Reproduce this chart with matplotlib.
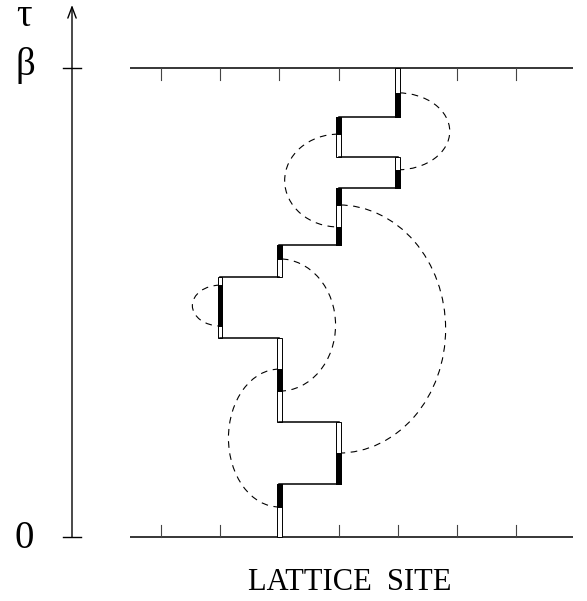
import matplotlib
matplotlib.use("Agg")
import matplotlib.pyplot as plt
from matplotlib.patches import Rectangle, Arc

# lattice sites and imaginary time (in units of beta)
sites = [0, 1, 2, 3, 4, 5, 6]

# world line: site occupied between successive kink times
wl_sites = [2, 3, 2, 1, 2, 3, 4, 3, 4]
kink_tau = [0.113, 0.245, 0.424, 0.554, 0.623, 0.744, 0.810, 0.896]

# loop segments lying on the world line (drawn black)
loop_site = [2, 3, 2, 1, 2, 3, 3, 4, 3, 4]
loop_lo = [0.064, 0.113, 0.311, 0.450, 0.593, 0.623, 0.708, 0.744, 0.859, 0.896]
loop_hi = [0.113, 0.179, 0.358, 0.537, 0.623, 0.661, 0.744, 0.783, 0.896, 0.947]

# dashed loop connections: site, lower tau, upper tau, bulge (sites, sign = side)
arc_site = [4, 3, 3, 2, 1, 2]
arc_lo = [0.783, 0.661, 0.179, 0.311, 0.450, 0.064]
arc_hi = [0.947, 0.859, 0.708, 0.593, 0.537, 0.358]
arc_bulge = [0.88, -0.91, 1.81, 0.95, -0.47, -0.86]

# layout (pixels of the 587x601 picture)
W, H = 587, 601
SITE0_PX, SITE_STEP_PX = 161, 59.17
TAU0_PX, BETA_PX = 537, 469


def px_x(p):
    return (p - SITE0_PX) / SITE_STEP_PX


def px_y(p):
    return (TAU0_PX - p) / BETA_PX


fig = plt.figure(figsize=(W / 100, H / 100), dpi=100)
ax = fig.add_axes([0, 0, 1, 1])
ax.set_xlim(px_x(0), px_x(W))
ax.set_ylim(px_y(H), px_y(0))
ax.axis("off")

serif = ["Liberation Serif", "DejaVu Serif"]

# top (beta) and bottom (0) time boundaries with site ticks
xl, xr = px_x(130), px_x(573)
tick = 12 / BETA_PX
for t0, d in [(0.0, 1), (1.0, -1)]:
    ax.plot([xl, xr], [t0, t0], color="black", lw=1.1, solid_capstyle="butt")
    for s in sites:
        ax.plot([s, s], [t0, t0 + d * tick], color="#444444", lw=0.8)

# tau axis with arrow
xa = px_x(72)
ax.annotate("", xy=(xa, px_y(5)), xytext=(xa, 0),
            arrowprops=dict(arrowstyle="->,head_length=0.4,head_width=0.15",
                            mutation_scale=20, lw=1.0, color="black",
                            shrinkA=0, shrinkB=0))
for t0 in [0.0, 1.0]:
    ax.plot([px_x(63), px_x(81)], [t0, t0], color="black", lw=1.0)

ax.text(px_x(24), px_y(17), "τ", fontsize=28, family=serif, ha="center", va="center")
ax.text(px_x(25), px_y(66), "β", fontsize=28, family=serif, ha="center", va="center")
ax.text(px_x(24), px_y(539), "0", fontsize=28, family=serif, ha="center", va="center")
ax.text(px_x(350), px_y(582), "LATTICE  SITE", fontsize=22, family=serif,
        ha="center", va="center")

# dashed loop arcs
for s, lo, hi, b in zip(arc_site, arc_lo, arc_hi, arc_bulge):
    th1, th2 = (-90, 90) if b > 0 else (90, 270)
    ax.add_patch(Arc((s, (lo + hi) / 2), 2 * abs(b), hi - lo, theta1=th1, theta2=th2,
                     color="black", lw=0.8, linestyle=(0, (6, 5)), zorder=2))

# world line: hollow vertical segments and horizontal kinks
half = 0.037
bounds = [0.0] + kink_tau + [1.0]
for k, s in enumerate(wl_sites):
    ax.add_patch(Rectangle((s - half, bounds[k]), 2 * half, bounds[k + 1] - bounds[k],
                           facecolor="white", edgecolor="black", lw=0.7, zorder=3))
for k, t in enumerate(kink_tau):
    a, b = wl_sites[k], wl_sites[k + 1]
    ax.plot([a, b], [t, t], color="black", lw=1.1, zorder=4)

# loop segments on the world line
for s, lo, hi in zip(loop_site, loop_lo, loop_hi):
    ax.add_patch(Rectangle((s - half, lo), 2 * half, hi - lo,
                           facecolor="black", edgecolor="black", lw=0.7, zorder=5))

fig.savefig("out.png", dpi=100)
plt.close(fig)
